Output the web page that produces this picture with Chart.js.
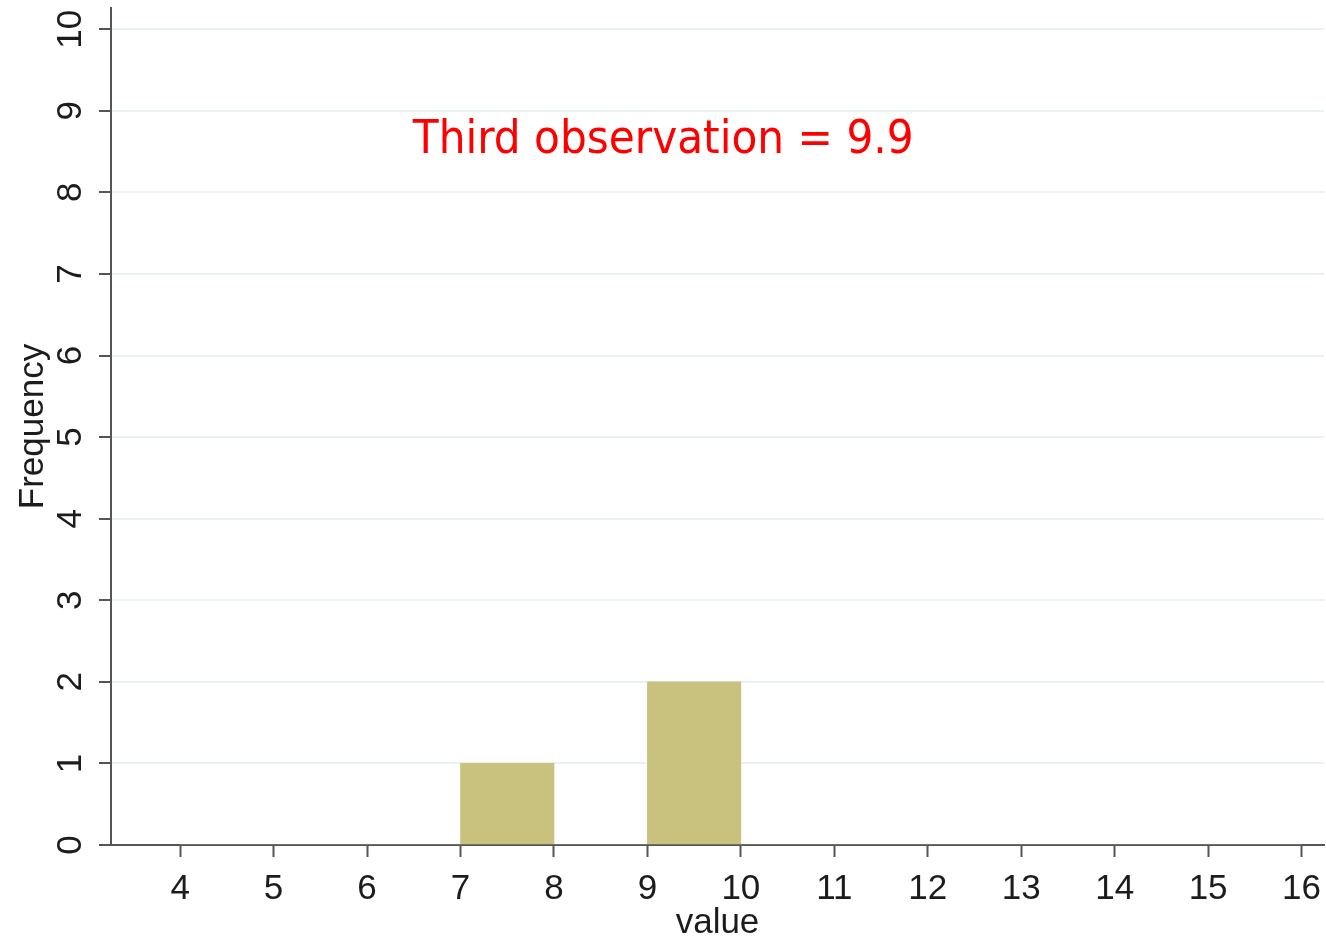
<!DOCTYPE html>
<html>
<head>
<meta charset="utf-8">
<script src="https://cdn.jsdelivr.net/npm/chart.js@4/dist/chart.umd.min.js"></script>
<style>
  body { margin: 0; background: #fff; }
  #wrap { width: 1326px; height: 940px; }
</style>
</head>
<body>
<div id="wrap"><canvas id="histChart"></canvas></div>
<script>
// histogram bins (left edges) and their frequencies
const binStarts = [4, 5, 6, 7, 8, 9, 10, 11, 12, 13, 14, 15];
const frequencies = [0, 0, 0, 1, 0, 2, 0, 0, 0, 0, 0, 0];
const xTicks = [4, 5, 6, 7, 8, 9, 10, 11, 12, 13, 14, 15, 16];
const yTicks = [0, 1, 2, 3, 4, 5, 6, 7, 8, 9, 10];
const noteText = 'Third observation = 9.9';
const noteX = 6.49;
const noteY = 8.48;

const axisColor = '#555555';
const textColor = '#1c1c1c';
const labelFont = { family: 'Arial, "Liberation Sans", sans-serif', size: 35 };

// red note in the plot area
const notePlugin = {
    id: 'note',
    afterDraw(chart) {
        const ctx = chart.ctx;
        ctx.save();
        ctx.font = '47px "DejaVu Sans Condensed", "DejaVu Sans", sans-serif';
        ctx.fillStyle = '#ff0000';
        ctx.textAlign = 'left';
        ctx.textBaseline = 'alphabetic';
        ctx.fillText(noteText, chart.scales.x.getPixelForValue(noteX), chart.scales.y.getPixelForValue(noteY));
        ctx.restore();
    }
};

new Chart(document.getElementById('histChart'), {
    type: 'bar',
    data: {
        datasets: [{
            data: binStarts.map((b, i) => ({ x: b + 0.5, y: frequencies[i] })),
            backgroundColor: '#c9c27f',
            borderWidth: 0,
            barPercentage: 1,
            categoryPercentage: 1
        }]
    },
    options: {
        responsive: true,
        maintainAspectRatio: false,
        animation: false,
        plugins: {
            legend: { display: false },
            tooltip: { enabled: false }
        },
        layout: {
            padding: { top: 8, right: 2, left: 0, bottom: 0 }
        },
        scales: {
            x: {
                type: 'linear',
                min: 3.26,
                max: 16.24,
                offset: false,
                afterBuildTicks: axis => { axis.ticks = xTicks.map(v => ({ value: v })); },
                afterFit: axis => {
                    axis.height = 95;
                    axis.paddingLeft = 0;
                    axis.paddingRight = 0;
                },
                border: { color: axisColor, width: 2 },
                grid: {
                    offset: false,
                    drawOnChartArea: false,
                    tickColor: axisColor,
                    tickLength: 12,
                    tickWidth: 2
                },
                ticks: {
                    color: textColor,
                    font: labelFont,
                    padding: 11,
                    maxRotation: 0,
                    autoSkip: false
                },
                title: {
                    display: true,
                    text: 'value',
                    color: textColor,
                    font: labelFont,
                    padding: { top: 0, bottom: -4 }
                }
            },
            y: {
                min: 0,
                max: 10.26,
                afterBuildTicks: axis => { axis.ticks = yTicks.map(v => ({ value: v })); },
                afterFit: axis => {
                    axis.width = 111;
                    axis.paddingTop = 0;
                    axis.paddingBottom = 0;
                },
                border: { color: axisColor, width: 2 },
                grid: {
                    color: '#e9f1f2',
                    lineWidth: 2,
                    tickColor: axisColor,
                    tickLength: 12,
                    tickWidth: 2
                },
                ticks: {
                    color: textColor,
                    font: labelFont,
                    minRotation: 90,
                    maxRotation: 90,
                    crossAlign: 'center',
                    padding: 8
                },
                title: {
                    display: true,
                    text: 'Frequency',
                    color: textColor,
                    font: labelFont,
                    padding: { top: 12, bottom: 0 }
                }
            }
        }
    },
    plugins: [notePlugin]
});
</script>
</body>
</html>
